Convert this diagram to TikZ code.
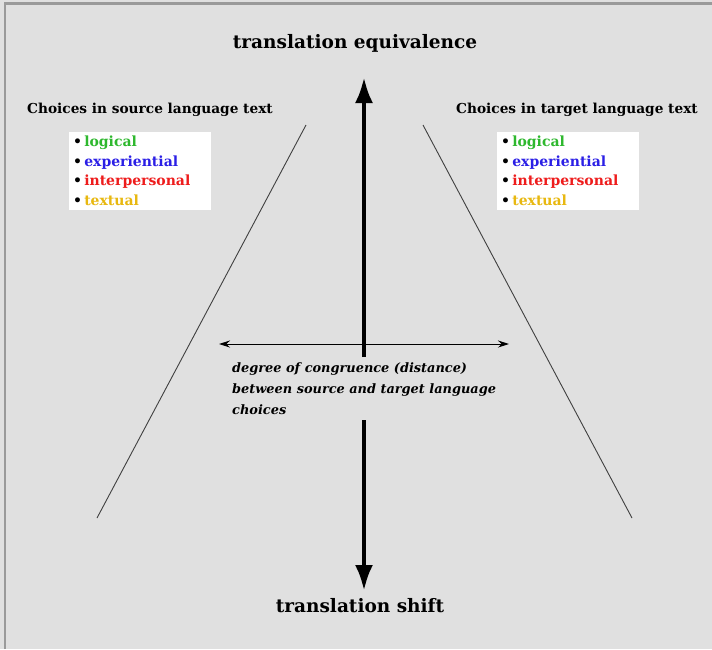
\documentclass[tikz,border=0pt]{standalone}
\usepackage{fontspec}
\setmainfont{DejaVu Serif}
\usetikzlibrary{arrows.meta,positioning}
\definecolor{panelgray}{HTML}{E0E0E0}
\definecolor{framegray}{HTML}{9A9A9A}
\definecolor{logicgreen}{HTML}{2EB82E}
\definecolor{expblue}{HTML}{2B1FE6}
\definecolor{interred}{HTML}{EE1C1C}
\definecolor{textgold}{HTML}{E8B810}
\newcommand{\metafn}{%
    \textbullet\,{\color{logicgreen}logical}\\
    \textbullet\,{\color{expblue}experiential}\\
    \textbullet\,{\color{interred}interpersonal}\\
    \textbullet\,{\color{textgold}textual}}
\begin{document}
\begin{tikzpicture}[
    x=1pt, y=-1pt,
    every node/.style={font=\bfseries, inner sep=0pt},
    heading/.style={font=\bfseries\fontsize{18.5}{22}\selectfont},
    side/.style={font=\bfseries\fontsize{13.7}{18}\selectfont},
    fnbox/.style={fill=white, minimum width=142pt, minimum height=78pt, text width=134pt,
        align=left, font=\bfseries\fontsize{14}{19.5}\selectfont},
    bigarrow/.style={line width=4.5pt, -{Latex[length=26pt,width=18pt]}},
    thinarrow/.style={line width=0.9pt, {Stealth[length=11pt,width=7pt]}-{Stealth[length=11pt,width=7pt]}},
    edge/.style={draw=black!75, line width=0.9pt}
]
\useasboundingbox (0,0) rectangle (712,649);
\fill[panelgray] (0,0) rectangle (712,649);
\draw[framegray, line width=2.5pt] (5,649) -- (5,3.5) -- (712,3.5);

% poles
\node[heading] (equiv) at (355,43) {translation equivalence};
\node[heading] (shift) at (360,606) {translation shift};

% source and target sides
\node[side] (srchead) at (150,110) {Choices in source language text};
\node[side] (tgthead) at (577,110) {Choices in target language text};
\node[fnbox] (srcbox) at (140,171) {\metafn};
\node[fnbox] (tgtbox) at (568,171) {\metafn};

\coordinate (srctop) at (306,125);
\coordinate (srcfoot) at (97,518);
\coordinate (tgttop) at (423,125);
\coordinate (tgtfoot) at (632,518);
\draw[edge] (srctop) -- (srcfoot);
\draw[edge] (tgttop) -- (tgtfoot);

% congruence
\node[font=\bfseries\itshape\fontsize{12.9}{21}\selectfont, align=left, anchor=west]
    (congr) at (232,389) {degree of congruence (distance)\\between source and target language\\choices};
\coordinate (cleft) at (219,344);
\coordinate (cright) at (509,344);
\draw[thinarrow] (cleft) -- (cright);

\coordinate (uplow) at (364,357);
\coordinate (uptip) at (364,77);
\coordinate (downhigh) at (364,420);
\coordinate (downtip) at (364,591);
\draw[bigarrow] (uplow) -- (uptip);
\draw[bigarrow] (downhigh) -- (downtip);
\end{tikzpicture}
\end{document}
